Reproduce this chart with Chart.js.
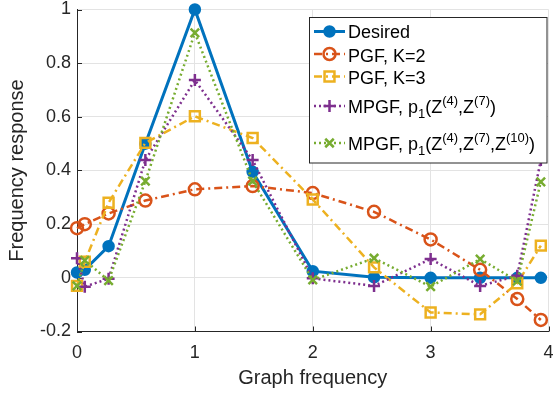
<!DOCTYPE html>
<html lang="en">
<head>
<meta charset="UTF-8">
<title>Frequency response</title>
<script src="https://cdn.jsdelivr.net/npm/chart.js"></script>
<style>
  html, body { margin: 0; padding: 0; background: #fff; }
  .grafico { width: 558px; height: 395px; }
</style>
</head>
<body>
<div class="grafico"><canvas id="graficoResposta"></canvas></div>
<script>
// valores
const frequencias = [0, 0.066, 0.268, 0.58, 1, 1.49, 2, 2.52, 3, 3.42, 3.735, 3.935];

const desejado = [0.02, 0.03, 0.118, 0.5, 1, 0.395, 0.025, 0.002, 0, 0, 0, 0];
const pgfK2 = [0.185, 0.20, 0.24, 0.288, 0.33, 0.342, 0.316, 0.246, 0.143, 0.03, -0.079, -0.157];
const pgfK3 = [-0.03, 0.06, 0.28, 0.503, 0.602, 0.521, 0.292, 0.039, -0.129, -0.136, -0.02, 0.12];
const mpgf47 = [0.073, -0.033, -0.003, 0.439, 0.737, 0.439, -0.002, -0.03, 0.07, -0.03, 0.008, 0.439];
const mpgf4710 = [-0.03, 0.065, -0.01, 0.36, 0.913, 0.36, -0.008, 0.073, -0.033, 0.07, -0.012, 0.358];

const nomes = ['Desired', 'PGF, K=2', 'PGF, K=3', 'MPGF, p_{1}(Z^{(4)},Z^{(7)})', 'MPGF, p_{1}(Z^{(4)},Z^{(7)},Z^{(10)})'];
const ticksX = [0, 1, 2, 3, 4];
const ticksY = [-0.2, 0, 0.2, 0.4, 0.6, 0.8, 1];

const fonte = "'Liberation Sans', Arial, Helvetica, sans-serif";
const corTexto = '#262626';

function pontos(valores) {
    return frequencias.map((f, i) => ({ x: f, y: valores[i] }));
}

const series = [
    { dados: desejado, cor: '#0072BD', largura: 3, traco: [], estilo: 'circle', raio: 5, fundo: '#0072BD' },
    { dados: pgfK2, cor: '#D95319', largura: 2.5, traco: [8, 4, 2, 4], estilo: 'circle', raio: 6, fundo: 'rgba(0,0,0,0)' },
    { dados: pgfK3, cor: '#EDB120', largura: 2.5, traco: [8, 4, 2, 4], estilo: 'rect', raio: 7, fundo: 'rgba(0,0,0,0)' },
    { dados: mpgf47, cor: '#7E2F8E', largura: 2.5, traco: [2, 3], estilo: 'cross', raio: 6, fundo: 'rgba(0,0,0,0)' },
    { dados: mpgf4710, cor: '#77AC30', largura: 2.5, traco: [2, 3], estilo: 'crossRot', raio: 6, fundo: 'rgba(0,0,0,0)' }
];

const datasets = series.map((s, i) => ({
    label: nomes[i],
    data: pontos(s.dados),
    borderColor: s.cor,
    borderWidth: s.largura,
    borderDash: s.traco,
    pointStyle: s.estilo,
    pointRadius: s.raio,
    pointBorderWidth: 2.5,
    pointBorderColor: s.cor,
    pointBackgroundColor: s.fundo,
    tension: 0,
    clip: false,
    order: series.length - i
}));

// marcas dos eixos para dentro (estilo matlab)
const marcasInternas = {
    id: 'marcasInternas',
    beforeDatasetsDraw(chart) {
        const ctx = chart.ctx;
        const area = chart.chartArea;
        const x = chart.scales.x, y = chart.scales.y;
        ctx.save();
        ctx.strokeStyle = corTexto;
        ctx.lineWidth = 1;
        ctx.beginPath();
        ticksX.forEach(v => {
            const px = Math.round(x.getPixelForValue(v)) + 0.5;
            ctx.moveTo(px, area.bottom);
            ctx.lineTo(px, area.bottom - 5);
        });
        ticksY.forEach(v => {
            const py = Math.round(y.getPixelForValue(v)) + 0.5;
            ctx.moveTo(area.left, py);
            ctx.lineTo(area.left + 5, py);
        });
        ctx.stroke();
        ctx.restore();
    }
};

// separa texto com _{ } e ^{ }
function pedacos(texto) {
    const lista = [];
    const re = /([_^])\{([^}]*)\}/g;
    let ultimo = 0, m;
    while ((m = re.exec(texto)) !== null) {
        if (m.index > ultimo) lista.push({ t: texto.slice(ultimo, m.index), tipo: 'n' });
        lista.push({ t: m[2], tipo: m[1] === '_' ? 'sub' : 'sup' });
        ultimo = re.lastIndex;
    }
    if (ultimo < texto.length) lista.push({ t: texto.slice(ultimo), tipo: 'n' });
    return lista;
}

const legenda = {
    id: 'legendaMatlab',
    afterDraw(chart) {
        const ctx = chart.ctx;
        const caixa = { x: 309.5, y: 17.5, w: 237.5, h: 145.5 };
        const linhasY = [31.5, 54, 76.5, 106, 143];
        const baseY = [38, 61.5, 84, 112.5, 149.5];
        ctx.save();
        ctx.fillStyle = '#fff';
        ctx.fillRect(caixa.x, caixa.y, caixa.w, caixa.h);
        ctx.strokeStyle = corTexto;
        ctx.lineWidth = 1;
        ctx.strokeRect(caixa.x, caixa.y, caixa.w, caixa.h);

        chart.data.datasets.forEach((ds, i) => {
            const yl = linhasY[i];
            ctx.save();
            ctx.strokeStyle = ds.borderColor;
            ctx.lineWidth = ds.borderWidth;
            ctx.setLineDash(ds.borderDash);
            ctx.beginPath();
            ctx.moveTo(314, yl);
            ctx.lineTo(345, yl);
            ctx.stroke();
            ctx.setLineDash([]);
            ctx.fillStyle = ds.pointBackgroundColor;
            ctx.strokeStyle = ds.pointBorderColor;
            ctx.lineWidth = ds.pointBorderWidth;
            Chart.helpers.drawPoint(ctx, {
                pointStyle: ds.pointStyle,
                radius: ds.pointRadius,
                rotation: 0,
                borderWidth: ds.pointBorderWidth
            }, 329.5, yl);
            ctx.restore();

            let x = 348;
            ctx.fillStyle = '#000';
            ctx.textBaseline = 'alphabetic';
            pedacos(ds.label).forEach(p => {
                let y = baseY[i];
                if (p.tipo === 'n') {
                    ctx.font = '18px ' + fonte;
                } else {
                    ctx.font = '13px ' + fonte;
                    y += p.tipo === 'sub' ? 5 : -8;
                }
                ctx.fillText(p.t, x, y);
                x += ctx.measureText(p.t).width;
            });
        });
        ctx.restore();
    }
};

function semPadding(scale) {
    scale.paddingLeft = 0;
    scale.paddingRight = 0;
    scale.paddingTop = 0;
    scale.paddingBottom = 0;
}

new Chart(document.getElementById('graficoResposta'), {
    type: 'line',
    data: { datasets: datasets },
    options: {
        responsive: true,
        maintainAspectRatio: false,
        animation: false,
        layout: { padding: { top: 9, right: 4, left: 0, bottom: 0 } },
        plugins: {
            legend: { display: false },
            tooltip: { enabled: false }
        },
        scales: {
            x: {
                type: 'linear',
                min: 0,
                max: 4,
                afterBuildTicks: scale => { scale.ticks = ticksX.map(v => ({ value: v })); },
                afterFit: scale => { scale.height = 63.5; semPadding(scale); },
                grid: { color: '#e3e3e3', drawTicks: false },
                border: { color: corTexto, width: 1 },
                ticks: {
                    padding: 11,
                    color: corTexto,
                    font: { family: fonte, size: 18 },
                    maxRotation: 0,
                    callback: v => String(v)
                },
                title: {
                    display: true,
                    text: 'Graph frequency',
                    color: corTexto,
                    font: { family: fonte, size: 20 },
                    padding: { top: 0, bottom: 5 }
                }
            },
            y: {
                min: -0.2,
                max: 1,
                afterBuildTicks: scale => { scale.ticks = ticksY.map(v => ({ value: v })); },
                afterFit: scale => { scale.width = 77; semPadding(scale); },
                grid: { color: '#e3e3e3', drawTicks: false },
                border: { color: corTexto, width: 1 },
                ticks: {
                    padding: 6,
                    color: corTexto,
                    font: { family: fonte, size: 18 },
                    callback: v => String(Math.round(v * 10) / 10)
                },
                title: {
                    display: true,
                    text: 'Frequency response',
                    color: corTexto,
                    font: { family: fonte, size: 20 },
                    padding: { top: 5, bottom: 0 }
                }
            }
        }
    },
    plugins: [marcasInternas, legenda]
});
</script>
</body>
</html>
